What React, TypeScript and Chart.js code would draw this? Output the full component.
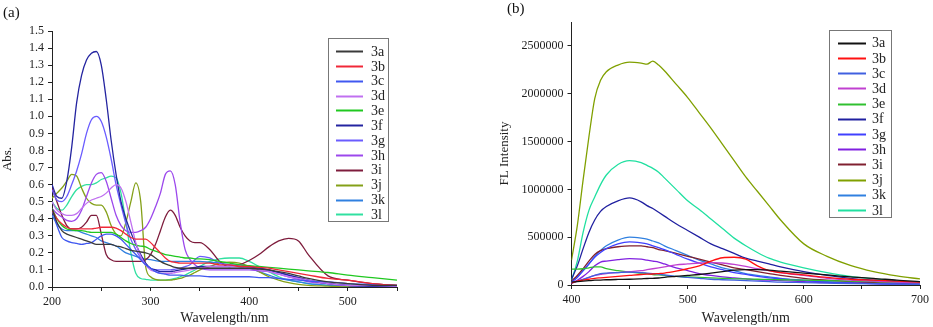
import React, { useEffect, useRef } from 'react';
import { Chart, registerables } from 'chart.js';
Chart.register(...registerables);

const SERIES = ['3a', '3b', '3c', '3d', '3e', '3f', '3g', '3h', '3i', '3j', '3k', '3l'];
const COLORS_A = ['#3a3a3a', '#f02838', '#4058f0', '#c070f0', '#20c820', '#2424a0', '#6a5cff', '#9c48ec', '#7e1c3c', '#84a018', '#3080e0', '#30e0a0'];
const COLORS_B = ['#111111', '#ff1010', '#4060e0', '#c040d0', '#30c030', '#2020a0', '#4040ff', '#8020e0', '#802030', '#80a000', '#3080e0', '#20e0a0'];

// Panel (a): UV-Vis absorption
const WAVE_A = [200, 205, 210, 215, 220, 225, 230, 235, 240, 245, 250, 255, 260, 265, 270, 275, 280, 285, 290, 295, 300, 305, 310, 315, 320, 325, 330, 335, 340, 345, 350, 360, 370, 380, 390, 400, 410, 420, 430, 440, 450, 460, 480, 500, 525, 550];
const A_3a = [0.46, 0.38, 0.33, 0.31, 0.30, 0.29, 0.28, 0.27, 0.26, 0.25, 0.25, 0.25, 0.25, 0.24, 0.235, 0.225, 0.215, 0.21, 0.205, 0.20, 0.19, 0.17, 0.15, 0.135, 0.125, 0.115, 0.11, 0.11, 0.11, 0.11, 0.11, 0.11, 0.11, 0.11, 0.11, 0.11, 0.105, 0.10, 0.09, 0.08, 0.065, 0.05, 0.03, 0.02, 0.01, 0.01];
const A_3b = [0.45, 0.40, 0.37, 0.35, 0.34, 0.34, 0.34, 0.34, 0.34, 0.345, 0.35, 0.35, 0.35, 0.345, 0.33, 0.31, 0.29, 0.28, 0.28, 0.28, 0.26, 0.23, 0.20, 0.17, 0.15, 0.145, 0.14, 0.14, 0.14, 0.14, 0.14, 0.14, 0.13, 0.13, 0.12, 0.12, 0.115, 0.11, 0.10, 0.09, 0.08, 0.07, 0.05, 0.04, 0.02, 0.01];
const A_3c = [0.45, 0.36, 0.29, 0.27, 0.26, 0.255, 0.25, 0.255, 0.26, 0.28, 0.30, 0.31, 0.31, 0.30, 0.28, 0.25, 0.22, 0.19, 0.16, 0.13, 0.11, 0.09, 0.08, 0.075, 0.07, 0.07, 0.07, 0.065, 0.065, 0.065, 0.065, 0.06, 0.06, 0.06, 0.06, 0.06, 0.055, 0.055, 0.05, 0.045, 0.04, 0.035, 0.03, 0.02, 0.015, 0.01];
const A_3d = [0.50, 0.45, 0.43, 0.42, 0.42, 0.43, 0.46, 0.49, 0.51, 0.52, 0.53, 0.55, 0.58, 0.60, 0.58, 0.50, 0.38, 0.26, 0.18, 0.13, 0.10, 0.09, 0.08, 0.08, 0.08, 0.085, 0.09, 0.095, 0.10, 0.105, 0.11, 0.12, 0.12, 0.12, 0.12, 0.11, 0.10, 0.09, 0.075, 0.06, 0.05, 0.04, 0.02, 0.01, 0.01, 0.005];
const A_3e = [0.46, 0.40, 0.36, 0.34, 0.335, 0.33, 0.33, 0.325, 0.32, 0.32, 0.32, 0.32, 0.32, 0.31, 0.29, 0.27, 0.255, 0.245, 0.24, 0.235, 0.22, 0.21, 0.20, 0.19, 0.185, 0.18, 0.175, 0.17, 0.17, 0.165, 0.165, 0.16, 0.15, 0.14, 0.13, 0.125, 0.12, 0.115, 0.11, 0.105, 0.10, 0.095, 0.085, 0.07, 0.055, 0.04];
const A_3f = [0.60, 0.53, 0.52, 0.62, 0.82, 1.08, 1.24, 1.33, 1.37, 1.38, 1.30, 1.10, 0.86, 0.66, 0.50, 0.40, 0.32, 0.25, 0.19, 0.14, 0.11, 0.10, 0.09, 0.09, 0.09, 0.095, 0.10, 0.105, 0.11, 0.115, 0.12, 0.12, 0.12, 0.12, 0.12, 0.12, 0.11, 0.10, 0.085, 0.07, 0.055, 0.04, 0.02, 0.01, 0.005, 0];
const A_3g = [0.57, 0.51, 0.50, 0.53, 0.60, 0.68, 0.78, 0.90, 0.98, 1.00, 0.97, 0.88, 0.75, 0.60, 0.48, 0.37, 0.28, 0.22, 0.17, 0.13, 0.11, 0.10, 0.10, 0.10, 0.10, 0.105, 0.11, 0.12, 0.13, 0.16, 0.18, 0.17, 0.14, 0.13, 0.13, 0.12, 0.11, 0.10, 0.085, 0.07, 0.055, 0.04, 0.02, 0.01, 0.005, 0];
const A_3h = [0.46, 0.43, 0.41, 0.39, 0.385, 0.40, 0.45, 0.53, 0.61, 0.66, 0.67, 0.62, 0.52, 0.42, 0.36, 0.33, 0.32, 0.32, 0.33, 0.35, 0.40, 0.47, 0.55, 0.66, 0.68, 0.60, 0.38, 0.22, 0.16, 0.13, 0.11, 0.10, 0.10, 0.10, 0.10, 0.10, 0.095, 0.09, 0.075, 0.06, 0.045, 0.03, 0.02, 0.01, 0.005, 0];
const A_3i = [0.58, 0.50, 0.42, 0.36, 0.34, 0.34, 0.35, 0.38, 0.42, 0.42, 0.31, 0.19, 0.16, 0.15, 0.15, 0.15, 0.15, 0.15, 0.15, 0.16, 0.19, 0.25, 0.33, 0.41, 0.45, 0.42, 0.35, 0.30, 0.27, 0.26, 0.26, 0.22, 0.15, 0.12, 0.13, 0.155, 0.19, 0.235, 0.27, 0.285, 0.27, 0.19, 0.065, 0.04, 0.02, 0.01];
const A_3j = [0.52, 0.55, 0.58, 0.62, 0.66, 0.65, 0.58, 0.52, 0.49, 0.48, 0.48, 0.44, 0.36, 0.31, 0.30, 0.38, 0.50, 0.61, 0.50, 0.12, 0.06, 0.045, 0.04, 0.04, 0.04, 0.045, 0.05, 0.06, 0.07, 0.085, 0.10, 0.12, 0.14, 0.145, 0.14, 0.12, 0.09, 0.06, 0.04, 0.025, 0.015, 0.01, 0.005, 0, 0, 0];
const A_3k = [0.42, 0.37, 0.34, 0.33, 0.33, 0.33, 0.32, 0.31, 0.30, 0.29, 0.27, 0.26, 0.25, 0.24, 0.22, 0.20, 0.19, 0.18, 0.17, 0.165, 0.16, 0.155, 0.15, 0.15, 0.15, 0.15, 0.15, 0.15, 0.15, 0.15, 0.15, 0.145, 0.14, 0.13, 0.12, 0.11, 0.09, 0.07, 0.05, 0.04, 0.03, 0.02, 0.01, 0.005, 0, 0];
const A_3l = [0.50, 0.46, 0.45, 0.48, 0.53, 0.57, 0.59, 0.60, 0.60, 0.61, 0.63, 0.64, 0.65, 0.64, 0.55, 0.38, 0.20, 0.08, 0.05, 0.045, 0.04, 0.04, 0.04, 0.04, 0.045, 0.05, 0.06, 0.07, 0.085, 0.10, 0.12, 0.15, 0.165, 0.17, 0.17, 0.15, 0.12, 0.09, 0.06, 0.04, 0.03, 0.02, 0.01, 0.005, 0, 0];
const A_SERIES = [A_3a, A_3b, A_3c, A_3d, A_3e, A_3f, A_3g, A_3h, A_3i, A_3j, A_3k, A_3l];
const A_Y_TICKS = [0.0, 0.1, 0.2, 0.3, 0.4, 0.5, 0.6, 0.7, 0.8, 0.9, 1.0, 1.1, 1.2, 1.3, 1.4, 1.5];

// Panel (b): fluorescence emission
const WAVE_B = [400, 405, 410, 415, 420, 425, 430, 440, 450, 460, 465, 470, 475, 480, 490, 500, 510, 520, 530, 540, 550, 560, 570, 580, 600, 620, 640, 660, 680, 700];
const B_3a = [30000, 35000, 40000, 45000, 50000, 52000, 55000, 58000, 60000, 65000, 68000, 70000, 73000, 80000, 90000, 100000, 110000, 125000, 140000, 155000, 160000, 160000, 155000, 145000, 125000, 105000, 85000, 70000, 50000, 35000];
const B_3b = [20000, 40000, 50000, 60000, 70000, 75000, 80000, 90000, 100000, 110000, 113000, 115000, 120000, 125000, 145000, 170000, 200000, 250000, 285000, 290000, 270000, 200000, 150000, 130000, 105000, 80000, 60000, 50000, 40000, 30000];
const B_3c = [20000, 40000, 60000, 80000, 100000, 118000, 125000, 130000, 135000, 130000, 125000, 120000, 115000, 105000, 90000, 80000, 70000, 60000, 55000, 50000, 45000, 40000, 35000, 30000, 25000, 20000, 15000, 12000, 10000, 8000];
const B_3d = [20000, 40000, 60000, 80000, 100000, 110000, 120000, 130000, 140000, 150000, 160000, 170000, 180000, 190000, 210000, 220000, 230000, 235000, 230000, 215000, 195000, 170000, 150000, 130000, 100000, 70000, 50000, 40000, 30000, 20000];
const B_3e = [165000, 165000, 170000, 180000, 190000, 190000, 170000, 150000, 135000, 125000, 120000, 110000, 105000, 100000, 90000, 85000, 80000, 75000, 70000, 65000, 63000, 60000, 58000, 55000, 50000, 45000, 40000, 35000, 30000, 25000];
const B_3f = [60000, 200000, 380000, 550000, 680000, 770000, 820000, 880000, 910000, 870000, 830000, 800000, 760000, 720000, 640000, 570000, 500000, 430000, 380000, 330000, 280000, 250000, 220000, 190000, 140000, 100000, 70000, 50000, 35000, 25000];
const B_3g = [30000, 80000, 150000, 220000, 290000, 340000, 380000, 430000, 450000, 440000, 430000, 410000, 390000, 370000, 320000, 270000, 230000, 190000, 160000, 130000, 110000, 90000, 75000, 65000, 45000, 30000, 20000, 15000, 10000, 10000];
const B_3h = [20000, 50000, 90000, 140000, 200000, 240000, 250000, 265000, 275000, 270000, 260000, 250000, 240000, 220000, 180000, 150000, 120000, 100000, 85000, 75000, 65000, 55000, 50000, 45000, 35000, 25000, 20000, 15000, 10000, 10000];
const B_3i = [40000, 100000, 170000, 250000, 320000, 360000, 380000, 400000, 410000, 410000, 400000, 390000, 370000, 360000, 330000, 300000, 270000, 240000, 210000, 180000, 160000, 140000, 120000, 100000, 70000, 50000, 35000, 25000, 20000, 15000];
const B_3j = [260000, 620000, 1100000, 1550000, 1950000, 2140000, 2230000, 2300000, 2330000, 2320000, 2310000, 2340000, 2300000, 2240000, 2100000, 1960000, 1800000, 1640000, 1470000, 1300000, 1130000, 980000, 830000, 680000, 430000, 300000, 205000, 140000, 95000, 63000];
const B_3k = [30000, 80000, 150000, 220000, 300000, 360000, 410000, 470000, 500000, 490000, 480000, 460000, 440000, 410000, 360000, 310000, 260000, 220000, 180000, 150000, 120000, 100000, 85000, 70000, 50000, 35000, 25000, 20000, 15000, 10000];
const B_3l = [50000, 250000, 550000, 780000, 920000, 1050000, 1150000, 1260000, 1300000, 1280000, 1250000, 1220000, 1180000, 1120000, 1000000, 880000, 790000, 690000, 590000, 490000, 410000, 340000, 280000, 240000, 180000, 130000, 90000, 65000, 45000, 30000];
const B_SERIES = [B_3a, B_3b, B_3c, B_3d, B_3e, B_3f, B_3g, B_3h, B_3i, B_3j, B_3k, B_3l];

const SERIF = "'Liberation Serif', 'Times New Roman', serif";
const TEXT = '#222';

function boxLegend(id: string, colors: string[], b: any) {
  return {
    id,
    afterDraw(chart: any) {
      const ctx = chart.ctx;
      ctx.save();
      ctx.fillStyle = '#fff';
      ctx.fillRect(b.x, b.y, b.w, b.h);
      ctx.strokeStyle = '#777';
      ctx.lineWidth = 1;
      ctx.strokeRect(b.x + 0.5, b.y + 0.5, b.w, b.h);
      ctx.font = `14px ${SERIF}`;
      ctx.textBaseline = 'middle';
      ctx.textAlign = 'left';
      SERIES.forEach((name, i) => {
        const y = b.y0 + i * b.dy;
        ctx.strokeStyle = colors[i];
        ctx.lineWidth = 2;
        ctx.beginPath();
        ctx.moveTo(b.lx1, Math.round(y) + 0.5);
        ctx.lineTo(b.lx2, Math.round(y) + 0.5);
        ctx.stroke();
        ctx.fillStyle = TEXT;
        ctx.fillText(name, b.tx, y + 1);
      });
      ctx.font = `15px ${SERIF}`;
      ctx.fillStyle = '#111';
      ctx.fillText(b.label, b.labelX, b.labelY);
      ctx.restore();
    },
  };
}

function makeConfig(
  wave: number[], series: number[][], colors: string[], opts: any
): any {
  const datasets = SERIES.map((name, i) => ({
    label: name,
    data: wave.map((x, j) => ({ x, y: series[i][j] })),
    borderColor: colors[i],
    backgroundColor: colors[i],
    borderWidth: 1.3,
    pointRadius: 0,
    fill: false,
    cubicInterpolationMode: 'monotone',
  }));
  const axisCommon = {
    grid: { drawOnChartArea: false, drawTicks: true, tickLength: 4, color: TEXT },
    border: { display: true, color: TEXT, width: 1 },
  };
  return {
    type: 'line',
    data: { datasets },
    options: {
      animation: false,
      responsive: false,
      devicePixelRatio: 1,
      layout: { padding: opts.padding },
      plugins: { legend: { display: false }, tooltip: { enabled: false } },
      scales: {
        x: {
          type: 'linear',
          min: opts.xMin,
          max: opts.xMax,
          ...axisCommon,
          ticks: {
            stepSize: 50,
            autoSkip: false,
            maxRotation: 0,
            padding: 4,
            color: TEXT,
            font: { family: SERIF, size: 12 },
            callback: (v: number) => (v % 100 === 0 ? String(v) : ''),
          },
          title: {
            display: true,
            text: 'Wavelength/nm',
            color: TEXT,
            font: { family: SERIF, size: 14 },
            padding: { top: 2, bottom: 0 },
          },
          afterFit: (s: any) => { s.height = opts.xHeight; },
        },
        y: {
          type: 'linear',
          min: opts.yMin,
          max: opts.yMax,
          ...axisCommon,
          ticks: {
            stepSize: opts.yStep,
            autoSkip: false,
            padding: 4,
            color: TEXT,
            font: { family: SERIF, size: 12 },
            callback: opts.yFormat,
          },
          afterBuildTicks: opts.yFilter,
          title: {
            display: true,
            text: opts.yTitle,
            color: TEXT,
            font: { family: SERIF, size: 13 },
            padding: { top: opts.yTitlePad, bottom: 0 },
          },
          afterFit: (s: any) => { s.width = opts.yWidth; },
        },
      },
    },
    plugins: [opts.legend],
  };
}

function Panel({ left, width, config }: { left: number; width: number; config: () => any }) {
  const ref = useRef<HTMLCanvasElement>(null);
  useEffect(() => {
    const chart = new Chart(ref.current as HTMLCanvasElement, config());
    return () => chart.destroy();
  }, []);
  return (
    <canvas
      ref={ref}
      width={width}
      height={327}
      style={{ position: 'absolute', left, top: 0, width, height: 327 }}
    />
  );
}

const configA = () =>
  makeConfig(WAVE_A, A_SERIES, COLORS_A, {
    padding: { left: 0, right: 69, top: 31, bottom: 0 },
    xMin: 200, xMax: 550, xHeight: 40,
    yMin: 0, yMax: 1.5, yStep: 0.1, yWidth: 52, yTitle: 'Abs.', yTitlePad: 0,
    yFormat: (v: number) => v.toFixed(1),
    yFilter: (s: any) => {
      s.ticks = A_Y_TICKS.map((value) => ({ value }));
    },
    legend: boxLegend('legendA', COLORS_A, {
      x: 328, y: 38, w: 60, h: 183, y0: 51, dy: 14.85, lx1: 336, lx2: 363, tx: 371,
      label: '(a)', labelX: 3, labelY: 13,
    }),
  });

const configB = () =>
  makeConfig(WAVE_B, B_SERIES, COLORS_B, {
    padding: { left: 30, right: 11, top: 22, bottom: 0 },
    xMin: 400, xMax: 700, xHeight: 42,
    yMin: 0, yMax: 2750000, yStep: 250000, yWidth: 75.5, yTitle: 'FL Intensity', yTitlePad: 1,
    yFormat: (v: number) => String(v),
    yFilter: (s: any) => {
      s.ticks = s.ticks.filter((t: any) => t.value % 500000 === 0);
    },
    legend: boxLegend('legendB', COLORS_B, {
      x: 363, y: 30, w: 62, h: 187, y0: 42.7, dy: 15.2, lx1: 372, lx2: 400, tx: 406,
      label: '(b)', labelX: 41, labelY: 9,
    }),
  });

export default function App() {
  return (
    <div style={{ position: 'fixed', left: 0, top: 0, width: 933, height: 327, background: '#fff', overflow: 'hidden' }}>
      <Panel left={0} width={466} config={configA} />
      <Panel left={466} width={467} config={configB} />
    </div>
  );
}
